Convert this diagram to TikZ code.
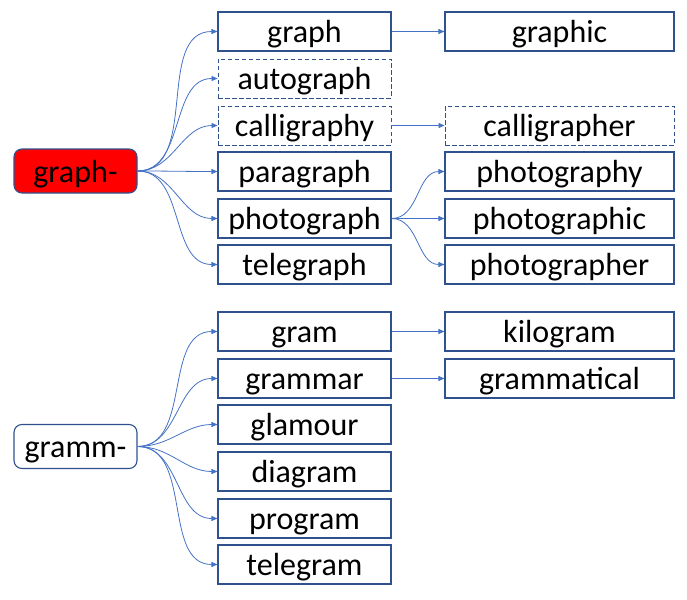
\documentclass[tikz,border=0pt]{standalone}
\usepackage{fontspec}
\setmainfont{Carlito}
\usetikzlibrary{arrows.meta}
\definecolor{bord}{HTML}{2F528F}
\definecolor{conn}{HTML}{4472C4}
\definecolor{redfill}{HTML}{FF0000}
\begin{document}
\begin{tikzpicture}[x=1pt,y=-1pt,
  wbox/.style={draw=bord, line width=1.1pt, fill=white, inner sep=0pt,
    text height=22.5pt, text depth=0pt, font=\fontsize{32}{37}\selectfont},
  col1/.style={wbox, minimum width=173pt, minimum height=39pt},
  col2/.style={wbox, minimum width=229pt, minimum height=39pt},
  dashbox/.style={line width=0.9pt, dash pattern=on 4.5pt off 2.5pt},
  rootbox/.style={wbox, rounded corners=8pt, minimum width=123pt, minimum height=44pt},
  conn/.style={draw=conn, line width=0.8pt, -{Triangle[length=6pt,width=5pt]}},
  curve/.style={conn, out=0, in=180}
]
\useasboundingbox (0,0) rectangle (687,599);
% root nodes
\node[rootbox, fill=redfill] (graphr) at (75.5,171) {graph-};
\node[rootbox] (grammr) at (75.5,446.5) {gramm-};
% column 1, group 1
\node[col1] (graph) at (304.5,31.5) {graph};
\node[col1, dashbox] (autograph) at (304.5,78.5) {autograph};
\node[col1, dashbox] (calligraphy) at (304.5,125.5) {calligraphy};
\node[col1] (paragraph) at (304.5,171.5) {paragraph};
\node[col1] (photograph) at (304.5,218.5) {photograph};
\node[col1] (telegraph) at (304.5,264.5) {telegraph};
% column 1, group 2
\node[col1] (gram) at (304.5,331.5) {gram};
\node[col1] (grammar) at (304.5,378.5) {grammar};
\node[col1] (glamour) at (304.5,424.5) {glamour};
\node[col1] (diagram) at (304.5,471.5) {diagram};
\node[col1] (program) at (304.5,518.5) {program};
\node[col1] (telegram) at (304.5,564.5) {telegram};
% column 2
\node[col2] (graphic) at (559.5,31.5) {graphic};
\node[col2, dashbox] (calligrapher) at (559.5,125.5) {calligrapher};
\node[col2] (photography) at (559.5,171.5) {photography};
\node[col2] (photographic) at (559.5,218.5) {photographic};
\node[col2] (photographer) at (559.5,264.5) {photographer};
\node[col2] (kilogram) at (559.5,331.5) {kilogram};
\node[col2] (grammatical) at (559.5,378.5) {grammatical};
% connectors from graph-
\foreach \t in {graph,autograph,calligraphy,paragraph,photograph,telegraph}
  \draw[curve] (graphr.east) to (\t.west);
% connectors from gramm-
\foreach \t in {gram,grammar,glamour,diagram,program,telegram}
  \draw[curve] (grammr.east) to (\t.west);
% second level
\draw[conn] (graph.east) -- (graphic.west);
\draw[conn] (calligraphy.east) -- (calligrapher.west);
\foreach \t in {photography,photographic,photographer}
  \draw[curve] (photograph.east) to (\t.west);
\draw[conn] (gram.east) -- (kilogram.west);
\draw[conn] (grammar.east) -- (grammatical.west);
\end{tikzpicture}
\end{document}
